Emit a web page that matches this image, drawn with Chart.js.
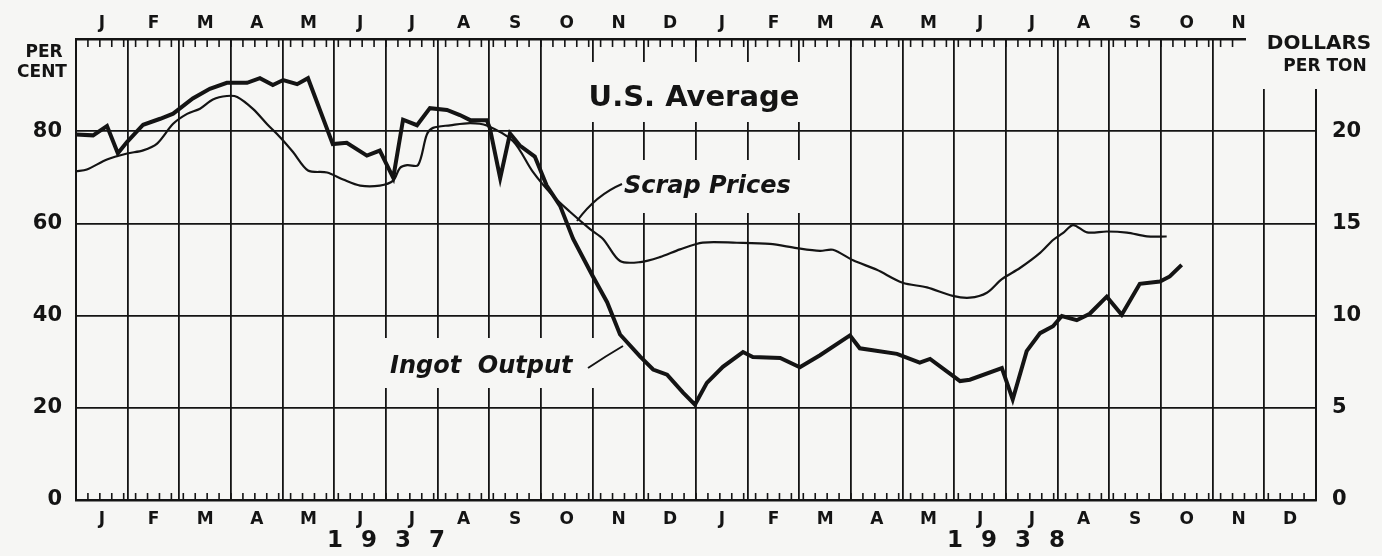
<!DOCTYPE html>
<html>
<head>
<meta charset="utf-8">
<script src="https://cdn.jsdelivr.net/npm/chart.js@4"></script>
<style>
  html, body { margin: 0; padding: 0; background: #f6f6f4; }
  #wrap { width: 1382px; height: 556px; position: relative; }
</style>
</head>
<body>
<div id="wrap"><canvas id="steel"></canvas></div>
<script>
const ink = '#141414'
const paper = '#f6f6f4'

const months = ['J', 'F', 'M', 'A', 'M', 'J', 'J', 'A', 'S', 'O', 'N', 'D']
const bottomLabels = months.concat(months)
const topLabels = months.concat(months.slice(0, 11))
const yearLabels = ['1937', '1938']

// x = months since Jan 1, 1937; ingot output in per cent of capacity
const ingotMonths = [
    0, 0.33, 0.6, 0.81, 0.99, 1.3, 1.63, 1.88, 2.26, 2.59,
    2.92, 3.31, 3.56, 3.81, 4.01, 4.28, 4.49, 4.97, 5.24, 5.63,
    5.88, 6.14, 6.33, 6.6, 6.85, 7.18, 7.43, 7.63, 7.95, 8.01,
    8.21, 8.4, 8.59, 8.88, 9.11, 9.37, 9.62, 10.0, 10.28, 10.53,
    10.92, 11.17, 11.44, 11.75, 11.98, 12.21, 12.52, 12.91, 13.1, 13.63,
    14.01, 14.4, 14.98, 15.17, 15.89, 16.33, 16.53, 17.11, 17.3, 17.92,
    18.13, 18.4, 18.66, 18.91, 19.08, 19.37, 19.62, 19.95, 20.24, 20.59,
    20.98, 21.17, 21.4
]
const ingotOutput = [
    79.3, 79.1, 81.1, 75.2, 77.7, 81.4, 82.7, 83.8, 87.1, 89.2,
    90.5, 90.5, 91.5, 90.0, 91.1, 90.2, 91.5, 77.2, 77.5, 74.7,
    75.8, 69.9, 82.5, 81.3, 85.0, 84.6, 83.5, 82.4, 82.4, 80.7,
    69.8, 79.5, 76.9, 74.5, 68.2, 63.8, 56.7, 48.6, 42.9, 35.9,
    31.1, 28.3, 27.2, 23.3, 20.7, 25.4, 28.9, 32.1, 31.0, 30.8,
    28.8, 31.4, 35.7, 32.9, 31.7, 29.8, 30.6, 25.8, 26.1, 28.6,
    21.8, 32.3, 36.2, 37.7, 39.9, 39.0, 40.4, 44.1, 40.2, 46.9,
    47.4, 48.5, 51.0
]

// scrap prices in dollars per ton
const scrapMonths = [
    0, 0.21, 0.6, 0.99, 1.3, 1.57, 1.88, 2.15, 2.4, 2.65,
    2.92, 3.12, 3.43, 3.7, 3.95, 4.2, 4.49, 4.86, 5.17, 5.5,
    5.88, 6.14, 6.27, 6.41, 6.62, 6.79, 6.91, 7.24, 7.63, 7.95,
    8.46, 8.84, 9.23, 9.56, 9.95, 10.2, 10.53, 10.92, 11.3, 11.69,
    12.13, 12.79, 13.43, 13.95, 14.4, 14.65, 15.04, 15.5, 16.0, 16.47,
    16.97, 17.3, 17.63, 17.92, 18.27, 18.66, 18.91, 19.1, 19.3, 19.57,
    19.95, 20.34, 20.73, 21.11
]
const scrapPrices = [
    17.83, 17.92, 18.47, 18.79, 18.96, 19.33, 20.40, 20.94, 21.22, 21.72,
    21.91, 21.86, 21.20, 20.38, 19.67, 18.87, 17.87, 17.76, 17.38, 17.05,
    17.05, 17.32, 18.01, 18.16, 18.16, 19.81, 20.18, 20.32, 20.44, 20.31,
    19.46, 17.81, 16.50, 15.63, 14.69, 14.16, 12.96, 12.90, 13.17, 13.59,
    13.96, 13.95, 13.89, 13.66, 13.51, 13.57, 13.00, 12.48, 11.78, 11.53,
    11.07, 10.97, 11.24, 11.98, 12.58, 13.40, 14.10, 14.47, 14.91, 14.51,
    14.56, 14.50, 14.30, 14.29
]

Chart.defaults.font.family = "'DejaVu Sans', sans-serif"
Chart.defaults.color = ink

const boldFont = size => ({ size: size, weight: 'bold' })

// gaps in the grid behind the lettering, ruler ticks, labels
const decor = {
    id: 'decor',
    beforeDatasetsDraw(chart) {
        const ctx = chart.ctx
        const x = chart.scales.x
        const area = chart.chartArea
        ctx.save()
        ctx.fillStyle = paper
        ctx.fillRect(583, 62, 224, 60)
        ctx.fillRect(605, 160, 212, 53)
        ctx.fillRect(368, 338, 230, 50)
        ctx.fillRect(1246, 0, 136, 89)

        ctx.strokeStyle = ink
        ctx.lineWidth = 1.6
        ctx.beginPath()
        for (let w = 0; w * 12 / 52 <= 24; w++) {
            const px = x.getPixelForValue(w * 12 / 52)
            ctx.moveTo(px, area.bottom)
            ctx.lineTo(px, area.bottom - 7)
            if (w * 12 / 52 <= 22.55) {
                ctx.moveTo(px, area.top)
                ctx.lineTo(px, area.top + 8)
            }
        }
        ctx.stroke()
        ctx.restore()
    },
    afterDatasetsDraw(chart) {
        const ctx = chart.ctx
        const x = chart.scales.x
        ctx.save()
        ctx.fillStyle = ink
        ctx.strokeStyle = ink
        ctx.textBaseline = 'middle'
        ctx.textAlign = 'center'

        ctx.font = "bold 17px 'DejaVu Sans'"
        ctx.fillText('PER', 44, 53)
        ctx.fillText('CENT', 42, 73)

        ctx.font = "bold 20px 'DejaVu Sans'"
        ctx.fillText('DOLLARS', 1319, 44)
        ctx.font = "bold 17px 'DejaVu Sans'"
        ctx.fillText('PER TON', 1325, 67)

        ctx.textBaseline = 'alphabetic'
        ctx.font = "bold 29px 'DejaVu Sans'"
        ctx.fillText('U.S. Average', 694, 106)

        ctx.textAlign = 'left'
        ctx.font = "italic bold 24px 'DejaVu Sans'"
        ctx.fillText('Scrap Prices', 624, 193)
        ctx.fillText('Ingot  Output', 390, 373)

        ctx.lineWidth = 2
        ctx.beginPath()
        ctx.moveTo(577, 221)
        ctx.quadraticCurveTo(596, 195, 622, 184)
        ctx.moveTo(588, 368)
        ctx.quadraticCurveTo(606, 356, 623, 346)
        ctx.stroke()

        ctx.textAlign = 'center'
        ctx.textBaseline = 'middle'
        ctx.font = "bold 23px 'DejaVu Sans'"
        yearLabels.forEach((year, i) => {
            const cx = x.getPixelForValue(6 + i * 12)
            for (let k = 0; k < year.length; k++) {
                ctx.fillText(year[k], cx + (k - 1.5) * 34, 541)
            }
        })
        ctx.restore()
    }
}

new Chart(document.getElementById('steel'), {
    type: 'line',
    data: {
        datasets: [{
            label: 'Ingot Output',
            data: ingotMonths.map((m, i) => ({ x: m, y: ingotOutput[i] })),
            borderColor: ink,
            borderWidth: 4,
            pointRadius: 0,
            tension: 0,
            yAxisID: 'y'
        }, {
            label: 'Scrap Prices',
            data: scrapMonths.map((m, i) => ({ x: m, y: scrapPrices[i] })),
            borderColor: ink,
            borderWidth: 2.2,
            pointRadius: 0,
            tension: 0.3,
            yAxisID: 'y2'
        }]
    },
    options: {
        responsive: true,
        maintainAspectRatio: false,
        animation: false,
        layout: { padding: 0 },
        plugins: {
            legend: { display: false },
            tooltip: { enabled: false }
        },
        scales: {
            x: {
                type: 'linear',
                position: 'bottom',
                min: 0,
                max: 24,
                afterBuildTicks: s => {
                    s.ticks = []
                    for (let i = 0; i <= 48; i++) s.ticks.push({ value: i / 2 })
                },
                afterFit: s => { s.height = 56 },
                ticks: {
                    autoSkip: false,
                    maxRotation: 0,
                    padding: 9,
                    font: boldFont(17),
                    callback: v => v % 1 ? bottomLabels[Math.floor(v)] : ''
                },
                grid: {
                    color: c => c.tick && c.tick.value % 1 === 0 ? ink : 'rgba(0,0,0,0)',
                    lineWidth: 1.8,
                    drawTicks: false
                },
                border: { color: ink, width: 2.5 }
            },
            x2: {
                type: 'linear',
                position: 'top',
                min: 0,
                max: 24,
                afterBuildTicks: s => {
                    s.ticks = topLabels.map((_, i) => ({ value: i + 0.5 }))
                },
                afterFit: s => { s.height = 39 },
                ticks: {
                    autoSkip: false,
                    maxRotation: 0,
                    padding: 5,
                    font: boldFont(17),
                    callback: v => topLabels[Math.floor(v)]
                },
                grid: { display: false, drawTicks: false },
                border: { color: ink, width: 2.5 }
            },
            y: {
                position: 'left',
                min: 0,
                max: 100,
                afterFit: s => { s.width = 76 },
                ticks: {
                    stepSize: 20,
                    padding: 14,
                    font: boldFont(21),
                    callback: v => v === 100 ? '' : v
                },
                grid: { color: ink, lineWidth: 1.8, drawTicks: false },
                border: { color: ink, width: 2 }
            },
            y2: {
                position: 'right',
                min: 0,
                max: 25,
                afterFit: s => { s.width = 66 },
                ticks: {
                    stepSize: 5,
                    padding: 16,
                    font: boldFont(21),
                    callback: v => v === 25 ? '' : v
                },
                grid: { display: false, drawTicks: false },
                border: { color: ink, width: 2 }
            }
        }
    },
    plugins: [decor]
})
</script>
</body>
</html>
